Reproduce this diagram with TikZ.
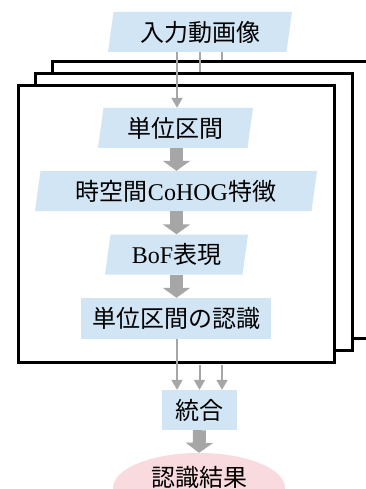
\documentclass[tikz,border=0pt]{standalone}
\usepackage{fontspec}
\setmainfont{Liberation Serif}
\newfontfamily\cjk{Noto Sans CJK JP}
\newcommand\jp[1]{{\cjk #1}}
\usetikzlibrary{shapes.geometric,arrows.meta}
\definecolor{boxblue}{HTML}{D2E5F5}
\definecolor{respink}{HTML}{F9DADF}
\definecolor{arrgrey}{HTML}{A6A6A6}
\begin{document}
\begin{tikzpicture}[x=1pt,y=-1pt,
  font=\fontsize{24}{27}\selectfont,
  para/.style={trapezium, trapezium left angle=76, trapezium right angle=104,
    trapezium stretches body, fill=boxblue, minimum height=40pt, inner sep=0pt},
  rbox/.style={rectangle, fill=boxblue, minimum height=40pt, inner sep=0pt},
  frame/.style={rectangle, draw=black, line width=3pt, fill=white, inner sep=0pt},
  thinarr/.style={draw=arrgrey, line width=2pt, -{Triangle[length=10pt,width=11pt]}},
  thinline/.style={draw=arrgrey, line width=2pt},
  block/.style={draw=arrgrey, line width=13pt, -{Triangle[length=10pt,width=27pt]}}]
\useasboundingbox (0,0) rectangle (365,489);
\coordinate (c0) at (176.5,0);
\coordinate (c1) at (177,0);
\coordinate (c2) at (199.5,0);
\coordinate (c3) at (222,0);
% frames
\node[frame, minimum width=320pt, minimum height=276pt] (f1) at (212,200) {};
\node[frame, minimum width=317pt, minimum height=276pt] (f2) at (193.5,212) {};
\node[frame, minimum width=316pt, minimum height=276pt] (f3) at (176,224) {};
% boxes
\node[para, minimum width=184pt] (in) at (200,32) {\jp{入力動画像}};
\node[para, minimum width=155pt] (u1) at (175.5,128) {\jp{単位区間}};
\node[para, minimum width=282pt] (feat) at (176,191) {\jp{時空間}CoHOG\jp{特徴}};
\node[para, minimum width=143pt] (bof) at (176.5,254.5) {BoF\jp{表現}};
\node[rbox, minimum width=190pt, minimum height=41pt] (rec) at (176,318.5) {\jp{単位区間の認識}};
\node[rbox, minimum width=75pt] (int) at (199.5,410) {\jp{統合}};
\node[ellipse, fill=respink, minimum width=172pt, minimum height=70pt] (res) at (199,488) {};
\node (restxt) at (199,477) {\jp{認識結果}};
% thin connectors
\draw[thinarr] (in.south -| c1) -- (u1.north -| c1);
\draw[thinline] (in.south -| c2) -- (f2.north -| c2);
\draw[thinline] (in.south -| c3) -- (f1.north -| c3);
\draw[thinarr] (rec.south -| c1) -- (int.north -| c1);
\draw[thinarr] ([yshift=-1.5pt]f3.south -| c2) -- (int.north -| c2);
\draw[thinarr] ([yshift=-1.5pt]f3.south -| c3) -- (int.north -| c3);
% block arrows
\draw[block] (u1.south -| c0) -- (feat.north -| c0);
\draw[block] (feat.south -| c0) -- (bof.north -| c0);
\draw[block] (bof.south -| c0) -- (rec.north -| c0);
\draw[block] (int.south) -- (res.north);
\end{tikzpicture}
\end{document}
